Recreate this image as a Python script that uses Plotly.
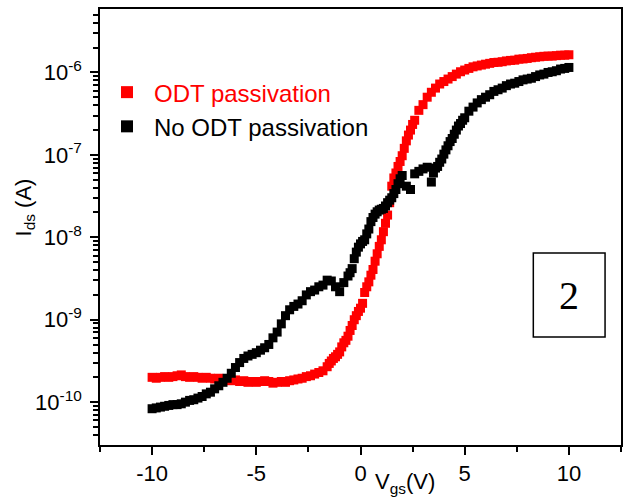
import plotly.graph_objects as go

# ---------------- data ----------------
# Gate voltage (V) for the ODT-passivated device
vgs_odt = [
    -10.0, -9.8, -9.6, -9.4, -9.2, -9.0, -8.8, -8.6, -8.4, -8.2,
    -8.0, -7.8, -7.6, -7.4, -7.2, -7.0, -6.8, -6.6, -6.4, -6.2,
    -6.0, -5.8, -5.6, -5.4, -5.2, -5.0, -4.8, -4.6, -4.4, -4.2,
    -4.0, -3.8, -3.6, -3.4, -3.2, -3.0, -2.8, -2.6, -2.4, -2.2,
    -2.0, -1.8, -1.6,
    -1.5, -1.4, -1.3, -1.2, -1.1, -1.0, -0.9, -0.8, -0.7, -0.6,
    -0.5, -0.4, -0.3, -0.2, -0.1, 0.0, 0.1, 0.2, 0.3, 0.4,
    0.5, 0.6, 0.7, 0.8, 0.9, 1.0, 1.1, 1.2, 1.3, 1.4,
    1.5, 1.6, 1.7, 1.8, 1.9, 2.0, 2.1, 2.2, 2.3, 2.4,
    2.5, 2.6,
    2.8, 3.0, 3.2, 3.4, 3.6, 3.8, 4.0, 4.2, 4.4, 4.6,
    4.8, 5.0, 5.2, 5.4, 5.6, 5.8, 6.0, 6.2, 6.4, 6.6,
    6.8, 7.0, 7.2, 7.4, 7.6, 7.8, 8.0, 8.2, 8.4, 8.6,
    8.8, 9.0, 9.2, 9.4, 9.6, 9.8, 10.0,
]
# Ids (A) with ODT passivation
ids_odt = [
    2.00e-10, 1.95e-10, 2.00e-10, 2.04e-10, 2.00e-10, 2.04e-10, 2.09e-10, 2.14e-10, 2.04e-10, 2.00e-10,
    2.04e-10, 2.00e-10, 1.95e-10, 2.00e-10, 1.95e-10, 1.91e-10, 1.95e-10, 1.91e-10, 1.86e-10, 1.82e-10,
    1.86e-10, 1.78e-10, 1.82e-10, 1.74e-10, 1.78e-10, 1.74e-10, 1.78e-10, 1.82e-10, 1.78e-10, 1.70e-10,
    1.74e-10, 1.78e-10, 1.74e-10, 1.82e-10, 1.86e-10, 1.91e-10, 1.95e-10, 2.04e-10, 2.09e-10, 2.19e-10,
    2.29e-10, 2.40e-10, 2.69e-10,
    2.95e-10, 3.16e-10, 3.39e-10, 3.55e-10, 3.80e-10, 4.07e-10, 4.68e-10, 5.25e-10, 5.62e-10, 6.31e-10,
    7.41e-10, 8.51e-10, 1.00e-9, 1.12e-9, 1.26e-9, 1.38e-9, 1.58e-9, 2.14e-9, 2.51e-9, 2.88e-9,
    3.47e-9, 4.07e-9, 5.13e-9, 6.31e-9, 7.76e-9, 9.33e-9, 1.17e-8, 1.48e-8, 1.86e-8, 2.63e-8,
    4.17e-8, 5.25e-8, 6.03e-8, 7.24e-8, 8.32e-8, 9.77e-8, 1.20e-7, 1.48e-7, 1.74e-7, 2.00e-7,
    2.34e-7, 2.63e-7,
    3.47e-7, 4.07e-7, 5.01e-7, 5.75e-7, 6.46e-7, 7.24e-7, 7.76e-7, 8.32e-7, 8.91e-7, 9.55e-7,
    1.02e-6, 1.07e-6, 1.12e-6, 1.17e-6, 1.20e-6, 1.23e-6, 1.26e-6, 1.29e-6, 1.32e-6, 1.33e-6,
    1.35e-6, 1.38e-6, 1.40e-6, 1.41e-6, 1.45e-6, 1.46e-6, 1.48e-6, 1.51e-6, 1.53e-6, 1.55e-6,
    1.57e-6, 1.58e-6, 1.58e-6, 1.60e-6, 1.62e-6, 1.62e-6, 1.64e-6,
]

# Gate voltage (V) for the device without ODT passivation
vgs_no_odt = [
    -10.0, -9.8, -9.6, -9.4, -9.2, -9.0, -8.8, -8.6, -8.4, -8.2,
    -8.0, -7.8, -7.6, -7.4, -7.2, -7.0, -6.8, -6.6, -6.4, -6.2,
    -6.0, -5.8, -5.6, -5.4, -5.2, -5.0, -4.8, -4.6, -4.4, -4.2,
    -4.0, -3.8, -3.6, -3.4, -3.2, -3.0, -2.8, -2.6, -2.4, -2.2,
    -2.0, -1.8, -1.6, -1.4, -1.2, -1.0, -0.8,
    -0.6, -0.5, -0.4, -0.3, -0.2, -0.1, 0.0, 0.1, 0.2, 0.3,
    0.4, 0.5, 0.6, 0.7, 0.8, 0.9, 1.0, 1.1, 1.2, 1.3,
    1.4, 1.5, 1.6, 1.7, 1.8, 1.9, 2.0,
    2.2, 2.4, 2.6, 2.8, 3.0, 3.2, 3.4,
    3.5, 3.6, 3.7, 3.8, 3.9, 4.0, 4.1, 4.2, 4.3, 4.4,
    4.5, 4.6, 4.7, 4.8, 4.9, 5.0,
    5.2, 5.4, 5.6, 5.8, 6.0, 6.2, 6.4, 6.6, 6.8, 7.0,
    7.2, 7.4, 7.6, 7.8, 8.0, 8.2, 8.4, 8.6, 8.8, 9.0,
    9.2, 9.4, 9.6, 9.8, 10.0,
]
# Ids (A) without ODT passivation
ids_no_odt = [
    8.32e-11, 8.51e-11, 8.71e-11, 8.91e-11, 9.12e-11, 9.33e-11, 9.33e-11, 9.55e-11, 1.00e-10, 1.05e-10,
    1.07e-10, 1.12e-10, 1.17e-10, 1.26e-10, 1.32e-10, 1.45e-10, 1.58e-10, 1.74e-10, 1.95e-10, 2.24e-10,
    2.63e-10, 3.02e-10, 3.39e-10, 3.63e-10, 3.80e-10, 3.98e-10, 4.27e-10, 4.57e-10, 5.01e-10, 6.03e-10,
    7.08e-10, 8.91e-10, 1.12e-9, 1.32e-9, 1.45e-9, 1.55e-9, 1.70e-9, 2.00e-9, 2.19e-9, 2.29e-9,
    2.51e-9, 2.63e-9, 3.02e-9, 2.95e-9, 2.51e-9, 2.19e-9, 2.82e-9,
    3.39e-9, 3.72e-9, 4.17e-9, 5.50e-9, 6.61e-9, 7.59e-9, 8.32e-9, 8.91e-9, 9.33e-9, 1.10e-8,
    1.26e-8, 1.55e-8, 1.74e-8, 1.91e-8, 2.04e-8, 2.14e-8, 2.19e-8, 2.24e-8, 2.40e-8, 2.63e-8,
    2.82e-8, 3.02e-8, 3.39e-8, 3.80e-8, 4.47e-8, 5.13e-8, 5.62e-8,
    4.17e-8, 3.80e-8, 5.89e-8, 6.31e-8, 6.76e-8, 7.08e-8, 4.68e-8,
    6.03e-8, 6.92e-8, 7.24e-8, 8.13e-8, 8.91e-8, 1.02e-7, 1.15e-7, 1.29e-7, 1.45e-7, 1.58e-7,
    1.78e-7, 2.00e-7, 2.24e-7, 2.40e-7, 2.63e-7, 2.82e-7,
    3.39e-7, 3.80e-7, 4.27e-7, 4.68e-7, 5.01e-7, 5.37e-7, 5.89e-7, 6.17e-7, 6.46e-7, 6.92e-7,
    7.24e-7, 7.41e-7, 7.76e-7, 8.13e-7, 8.32e-7, 8.51e-7, 8.91e-7, 9.33e-7, 9.55e-7, 1.00e-6,
    1.02e-6, 1.05e-6, 1.10e-6, 1.12e-6, 1.15e-6,
]

assert len(vgs_odt) == len(ids_odt), (len(vgs_odt), len(ids_odt))
assert len(vgs_no_odt) == len(ids_no_odt), (len(vgs_no_odt), len(ids_no_odt))

x_tickvals = [-10, -5, 0, 5, 10]
x_ticktext = ["-10", "-5", "0", "5", "10"]
y_tickvals = [1e-10, 1e-9, 1e-8, 1e-7, 1e-6]
y_ticktext = ["10<sup>-10</sup>", "10<sup>-9</sup>", "10<sup>-8</sup>", "10<sup>-7</sup>", "10<sup>-6</sup>"]

FONT = "Arial, Liberation Sans, sans-serif"

fig = go.Figure()
fig.add_trace(go.Scatter(
    x=vgs_odt, y=ids_odt, mode="markers",
    name="<span style='color:#ff0000'>ODT passivation</span>",
    marker=dict(symbol="square", size=9, color="#ff0000", line=dict(width=0)),
))
fig.add_trace(go.Scatter(
    x=vgs_no_odt, y=ids_no_odt, mode="markers",
    name="No ODT passivation",
    marker=dict(symbol="square", size=9, color="#000000", line=dict(width=0)),
))

fig.update_layout(
    width=628, height=504,
    margin=dict(l=100, r=5, t=9, b=59),
    paper_bgcolor="white", plot_bgcolor="white",
    font=dict(family=FONT, size=21, color="black"),
    showlegend=True,
    legend=dict(
        x=0.0, y=0.86, xanchor="left", yanchor="top",
        bgcolor="rgba(0,0,0,0)", borderwidth=0,
        font=dict(family=FONT, size=24, color="black"),
        tracegroupgap=0, itemwidth=44, itemsizing="constant",
    ),
    xaxis=dict(
        range=[-12.5, 12.5],
        tickmode="array", tickvals=x_tickvals, ticktext=x_ticktext,
        ticks="outside", ticklen=8, tickwidth=1.5, tickcolor="black",
        minor=dict(ticks="outside", ticklen=5, tickwidth=1.5, tickcolor="black", dtick=2.5, tick0=0, showgrid=False),
        showline=True, linewidth=1.5, linecolor="black", mirror=True,
        showgrid=False, zeroline=False,
        tickfont=dict(family=FONT, size=22, color="black"),
    ),
    yaxis=dict(
        type="log", range=[-10.52, -5.23],
        tickmode="array", tickvals=y_tickvals, ticktext=y_ticktext,
        ticks="outside", ticklen=8, tickwidth=1.5, tickcolor="black",
        minor=dict(ticks="outside", ticklen=5, tickwidth=1.5, tickcolor="black", dtick="D1", showgrid=False),
        showline=True, linewidth=1.5, linecolor="black", mirror=True,
        showgrid=False, zeroline=False,
        tickfont=dict(family=FONT, size=22, color="black"),
        ticklabelstandoff=4,
    ),
)

# Axis titles as annotations (positioned like the original)
fig.add_annotation(
    text="I<sub>ds</sub> (A)", xref="paper", yref="paper",
    x=-0.145, y=0.546, xanchor="center", yanchor="middle",
    textangle=-90, showarrow=False,
    font=dict(family=FONT, size=22, color="black"),
)
fig.add_annotation(
    text="V<sub>gs</sub>(V)", xref="paper", yref="paper",
    x=0.585, y=-0.05, xanchor="center", yanchor="top",
    showarrow=False,
    font=dict(family=FONT, size=22, color="black"),
)

# Panel label box "2"
fig.add_shape(
    type="rect", xref="paper", yref="paper",
    x0=0.8317, x1=0.9694, y0=0.2477, y1=0.4404,
    line=dict(color="black", width=1.5), fillcolor="white",
)
fig.add_annotation(
    text="2", xref="paper", yref="paper",
    x=0.9005, y=0.344, xanchor="center", yanchor="middle",
    showarrow=False,
    font=dict(family="Liberation Serif, Times New Roman, serif", size=40, color="black"),
)

fig.write_html("out.html", config={"displayModeBar": False})

# remove the default page margin so the figure fills the window exactly
with open("out.html", "r", encoding="utf-8") as f:
    html = f.read()
html = html.replace("<head>", "<head><style>html,body{margin:0;padding:0;overflow:hidden;}</style>", 1)
with open("out.html", "w", encoding="utf-8") as f:
    f.write(html)
